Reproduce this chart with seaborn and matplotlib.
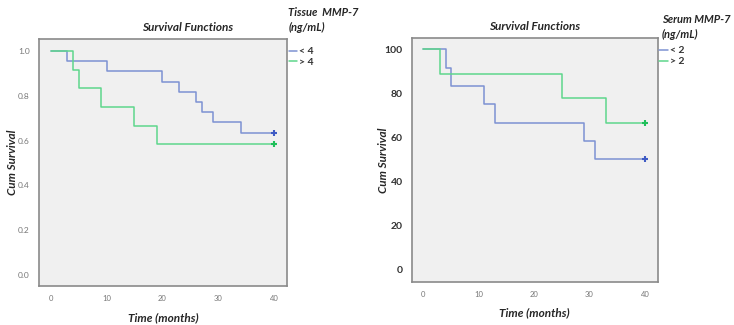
import numpy as np
import pandas as pd
import matplotlib
matplotlib.use("Agg")
import matplotlib.pyplot as plt
import seaborn as sns
from matplotlib.lines import Line2D

# Kaplan-Meier step values
tissue_low_time = [0, 3, 10, 20, 23, 26, 27, 29, 34, 40]
tissue_low_surv = [1.0, 0.955, 0.909, 0.864, 0.818, 0.773, 0.727, 0.682, 0.636, 0.636]
tissue_high_time = [0, 4, 5, 9, 15, 19, 40]
tissue_high_surv = [1.0, 0.917, 0.833, 0.75, 0.667, 0.583, 0.583]

serum_low_time = [0, 4, 5, 11, 13, 29, 31, 40]
serum_low_surv = [100, 91.7, 83.3, 75.0, 66.7, 58.3, 50.0, 50.0]
serum_high_time = [0, 3, 25, 33, 40]
serum_high_surv = [100, 88.9, 77.8, 66.7, 66.7]

tissue_labels = ["< 4", "> 4"]
serum_labels = ["< 2", "> 2"]
x_ticks = [0, 10, 20, 30, 40]
tissue_yticks = [0.0, 0.2, 0.4, 0.6, 0.8, 1.0]
serum_yticks = [0, 20, 40, 60, 80, 100]

BLUE = "#7d92d2"
GREEN = "#5ed68c"
BLUE_DK = "#3f5bc4"
GREEN_DK = "#1fbf5a"


def make_df(t1, s1, t2, s2, labels):
    a = pd.DataFrame({"time": t1, "surv": s1, "group": labels[0]})
    b = pd.DataFrame({"time": t2, "surv": s2, "group": labels[1]})
    return pd.concat([a, b], ignore_index=True)


def draw_panel(ax, df, labels, yticks, ylim, ytick_fmt, ytick_style,
               legend_title, title_x, ylab_x, leg_title_pos):
    sns.lineplot(data=df, x="time", y="surv", hue="group", hue_order=labels,
                 palette=[BLUE, GREEN], drawstyle="steps-post", estimator=None,
                 linewidth=1.1, legend=False, ax=ax)
    # censor marks at the end of each curve
    for lab, col in zip(labels, [BLUE_DK, GREEN_DK]):
        last = df[df["group"] == lab].iloc[-1]
        ax.plot(last["time"], last["surv"], marker="+", color=col, ms=5, mew=1.5)

    ax.set_facecolor("#f0f0f0")
    for sp in ax.spines.values():
        sp.set_color("#8a8a8a")
        sp.set_linewidth(1.2)
    ax.set_xlim(-2.1, 42.3)
    ax.set_ylim(*ylim)
    ax.set_xticks(x_ticks)
    ax.set_xticklabels([str(x) for x in x_ticks], fontsize=5.5, color="#777777")
    ax.set_yticks(yticks)
    ax.set_yticklabels([ytick_fmt(v) for v in yticks], **ytick_style)
    ax.tick_params(axis="both", direction="out", length=3, color="#777777", width=0.8)
    ax.grid(False)
    ax.set_xlabel("Time (months)", fontsize=8.5, fontweight="bold", style="italic", labelpad=7)
    ax.set_ylabel("Cum Survival", fontsize=8.5, fontweight="bold", style="italic")
    ax.yaxis.set_label_coords(ylab_x, 0.5)
    ax.set_title("Survival Functions", fontsize=8.5, fontweight="bold", style="italic",
                 pad=6, x=title_x)

    handles = [Line2D([0], [0], color=BLUE, lw=1.1), Line2D([0], [0], color=GREEN, lw=1.1)]
    leg = ax.legend(handles, labels, loc="upper left", bbox_to_anchor=(0.99, 0.985),
                    frameon=False, handlelength=0.8, handletextpad=0.2, labelspacing=0.15,
                    borderaxespad=0, fontsize=7.5)
    for t in leg.get_texts():
        t.set_fontweight("bold")
        t.set_color("#333333")
    ax.text(leg_title_pos[0], leg_title_pos[1], legend_title, transform=ax.transAxes,
            fontsize=8, fontweight="bold", style="italic", va="top", ha="left",
            linespacing=1.4)


sns.set_theme(style="white")
plt.rcParams["font.family"] = ["Lato", "DejaVu Sans"]

fig = plt.figure(figsize=(7.34, 3.25), dpi=100)
ax1 = fig.add_axes([0.053, 0.12, 0.338, 0.76])
ax2 = fig.add_axes([0.561, 0.133, 0.335, 0.749])

df_tissue = make_df(tissue_low_time, tissue_low_surv, tissue_high_time, tissue_high_surv, tissue_labels)
df_serum = make_df(serum_low_time, serum_low_surv, serum_high_time, serum_high_surv, serum_labels)

draw_panel(ax1, df_tissue, tissue_labels, tissue_yticks, (-0.049, 1.054),
           lambda v: f"{v:.1f}", {"fontsize": 6, "color": "#777777"},
           "Tissue  MMP-7\n(ng/mL)", 0.6, -0.085, (1.005, 1.13))
draw_panel(ax2, df_serum, serum_labels, serum_yticks, (-5.6, 105),
           lambda v: f"{v:d}", {"fontsize": 7.5, "color": "#333333", "fontweight": "bold"},
           "Serum MMP-7\n(ng/mL)", 0.5, -0.092, (1.018, 1.1))

fig.savefig("out.png", dpi=100)
